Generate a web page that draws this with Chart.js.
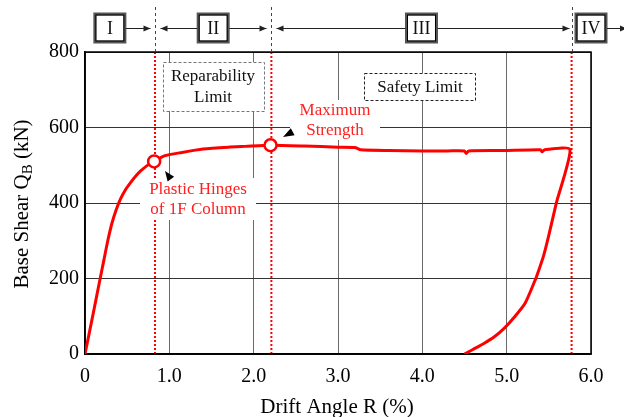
<!DOCTYPE html>
<html><head><meta charset="utf-8">
<script src="https://cdn.jsdelivr.net/npm/chart.js@4.4.1/dist/chart.umd.min.js"></script>
<style>html,body{margin:0;padding:0;background:#fff}#wrap{width:624px;height:417px}</style>
</head><body><div id="wrap"><canvas id="c" width="624" height="417"></canvas></div>
<script>
// ---- data ----
const driftR = [0, 0.08, 0.137, 0.18, 0.225, 0.27, 0.32, 0.37, 0.42, 0.48, 0.54, 0.6, 0.66, 0.76, 0.82, 0.94, 1.15, 1.4, 1.7, 1.9, 2.2, 2.6, 3.0, 3.2, 3.27, 3.6, 4.0, 4.3, 4.5, 4.52, 4.55, 4.96, 5.4, 5.42, 5.45, 5.75, 5.59, 5.5, 5.44, 5.39, 5.34, 5.22, 5.1, 4.97, 4.85, 4.73, 4.6, 4.5];
const shearQ = [0, 88, 152, 200, 250, 300, 347, 382, 410, 435, 454, 471, 485, 503, 510, 525, 534, 543, 548, 550, 553, 551, 548, 547, 541, 539, 538, 538, 538, 531, 538, 539, 541, 536, 541, 542, 401, 315, 262, 228, 197, 135, 100, 68, 45, 28, 12, 0];
const markerR = [0.82, 2.2];
const markerQ = [510, 553];
const limitR = [0.83, 2.21, 5.77];
const xTickValues = [0, 1, 2, 3, 4, 5, 6];
const yTickValues = [0, 200, 400, 600, 800];
const stageLabels = ['I', 'II', 'III', 'IV'];
const stageCenterR = [0.295, 1.52, 3.99, 6.0];

const SERIF = '"Liberation Serif", "Times New Roman", serif';
Chart.defaults.font.family = SERIF;
Chart.defaults.color = '#000';

const curvePts = driftR.map((r, i) => ({x: r, y: shearQ[i]}));
const markerPts = markerR.map((r, i) => ({x: r, y: markerQ[i]}));

const datasets = [
  {label: 'curve', data: curvePts, showLine: true, borderColor: '#ff0000', borderWidth: 3,
   pointRadius: 0, tension: 0.2, order: 1},
  {label: 'markers', data: markerPts, showLine: false, pointRadius: 6, pointBorderWidth: 2.5,
   pointBackgroundColor: '#fff', pointBorderColor: '#ff0000', order: 0, clip: false}
];
limitR.forEach((r, i) => datasets.push({
  label: 'limit' + i, data: [{x: r, y: 0}, {x: r, y: 800}], showLine: true,
  borderColor: '#ff0000', borderWidth: 2, borderDash: [2, 2], pointRadius: 0, order: 2 + i
}));

function arrowHead(ctx, x1, y1, x2, y2, len, half) {
  const a = Math.atan2(y2 - y1, x2 - x1);
  ctx.beginPath();
  ctx.moveTo(x2, y2);
  ctx.lineTo(x2 - len * Math.cos(a) + half * Math.sin(a), y2 - len * Math.sin(a) - half * Math.cos(a));
  ctx.lineTo(x2 - len * Math.cos(a) - half * Math.sin(a), y2 - len * Math.sin(a) + half * Math.cos(a));
  ctx.closePath();
  ctx.fill();
}
function arrow(ctx, x1, y, x2) {
  ctx.beginPath(); ctx.moveTo(x1, y); ctx.lineTo(x2, y); ctx.stroke();
  arrowHead(ctx, x1, y, x2, y, 7, 3);
}

const deco = {
  id: 'deco',
  beforeDatasetDraw(chart, args) {
    if (args.index !== 0) return;
    const ctx = chart.ctx;
    ctx.save();
    ctx.fillStyle = '#fff';
    // label backgrounds
    ctx.fillRect(140, 178, 116, 42);
    ctx.fillRect(290, 100, 90, 40);
    // Reparability box
    ctx.fillRect(163, 62, 101, 49);
    ctx.setLineDash([3, 2]); ctx.strokeStyle = '#777'; ctx.lineWidth = 1;
    ctx.strokeRect(163.5, 62.5, 101, 49);
    // Safety box
    ctx.fillRect(364, 73, 111, 27);
    ctx.strokeStyle = '#222';
    ctx.strokeRect(364.5, 73.5, 111, 27);
    ctx.setLineDash([]);
    // frame
    const a = chart.chartArea;
    ctx.strokeStyle = '#000'; ctx.lineWidth = 1.5;
    ctx.strokeRect(a.left, a.top, a.right - a.left, a.bottom - a.top);
    ctx.restore();
  },
  afterDraw(chart) {
    const ctx = chart.ctx, xs = chart.scales.x, a = chart.chartArea;
    ctx.save();
    // dashed extension lines above the plot
    ctx.strokeStyle = '#444'; ctx.lineWidth = 1; ctx.setLineDash([3, 3]);
    const lx = limitR.map(r => Math.round(xs.getPixelForValue(r)) + 0.5);
    lx.forEach(x => { ctx.beginPath(); ctx.moveTo(x, 7); ctx.lineTo(x, a.top); ctx.stroke(); });
    ctx.setLineDash([]);
    // stage boxes
    const cx = stageCenterR.map(r => xs.getPixelForValue(r));
    ctx.font = '18px ' + SERIF; ctx.textAlign = 'center'; ctx.textBaseline = 'middle';
    cx.forEach((c, i) => {
      ctx.fillStyle = '#fff';
      ctx.fillRect(c - 15, 14, 30, 28);
      ctx.strokeStyle = '#555'; ctx.lineWidth = 3;
      ctx.strokeRect(c - 15, 14, 30, 28);
      ctx.strokeStyle = '#000'; ctx.lineWidth = 1;
      ctx.strokeRect(c - 14, 15, 28, 26);
      ctx.fillStyle = '#111';
      ctx.fillText(stageLabels[i], c, 29);
    });
    // stage arrows
    ctx.strokeStyle = '#222'; ctx.fillStyle = '#222'; ctx.lineWidth = 1;
    const ay = 28.5;
    arrow(ctx, cx[0] + 16, ay, lx[0] - 5);
    arrow(ctx, cx[1] - 16, ay, lx[0] + 5);
    arrow(ctx, cx[1] + 16, ay, lx[1] - 5);
    arrow(ctx, cx[2] - 16, ay, lx[1] + 5);
    arrow(ctx, cx[2] + 16, ay, lx[2] - 3);
    arrow(ctx, cx[3] + 16, ay, 627);
    // annotation arrowheads
    ctx.fillStyle = '#000';
    arrowHead(ctx, 173, 182, 165, 171, 10, 4);
    arrowHead(ctx, 296, 130, 283, 137, 11, 4);
    // texts
    ctx.font = '17px ' + SERIF; ctx.textAlign = 'center'; ctx.textBaseline = 'middle';
    ctx.fillStyle = '#111';
    ctx.fillText('Reparability', 213, 77);
    ctx.fillText('Limit', 213, 98);
    ctx.fillText('Safety Limit', 420, 88);
    ctx.fillStyle = '#ff2020';
    ctx.fillText('Maximum', 335, 111);
    ctx.fillText('Strength', 335, 131);
    ctx.fillText('Plastic Hinges', 198, 190);
    ctx.fillText('of 1F Column', 198, 210);
    // axis titles
    ctx.fillStyle = '#000';
    ctx.font = '21px ' + SERIF;
    ctx.fillText('Drift Angle R (%)', 337, 407);
    ctx.translate(21, 204); ctx.rotate(-Math.PI / 2);
    const p1 = 'Base Shear Q', p2 = 'B', p3 = ' (kN)';
    ctx.font = '21px ' + SERIF; const w1 = ctx.measureText(p1).width, w3 = ctx.measureText(p3).width;
    ctx.font = '15px ' + SERIF; const w2 = ctx.measureText(p2).width;
    let x0 = -(w1 + w2 + w3) / 2;
    ctx.textAlign = 'left'; ctx.textBaseline = 'alphabetic';
    ctx.font = '21px ' + SERIF; ctx.fillText(p1, x0, 7);
    ctx.font = '15px ' + SERIF; ctx.fillText(p2, x0 + w1, 11);
    ctx.font = '21px ' + SERIF; ctx.fillText(p3, x0 + w1 + w2, 7);
    ctx.restore();
  }
};

new Chart(document.getElementById('c'), {
  type: 'scatter',
  data: {datasets},
  options: {
    responsive: false, animation: false, devicePixelRatio: 1,
    layout: {padding: {top: 52, right: 33, left: 0, bottom: 0}},
    plugins: {legend: {display: false}, tooltip: {enabled: false}},
    scales: {
      x: {
        type: 'linear', min: 0, max: 6,
        afterBuildTicks: s => { s.ticks = xTickValues.map(v => ({value: v})); },
        afterFit: s => { s.height = 63; },
        ticks: {callback: v => v === 0 ? '0' : v.toFixed(1), font: {size: 20}, color: '#000', padding: 11, maxRotation: 0},
        grid: {color: '#6a6a6a', lineWidth: 1, drawTicks: false},
        border: {color: '#000', width: 1.5}
      },
      y: {
        min: 0, max: 800,
        afterBuildTicks: s => { s.ticks = yTickValues.map(v => ({value: v})); },
        afterFit: s => { s.width = 85; },
        ticks: {font: {size: 20}, color: '#000', padding: 6},
        grid: {color: '#333', lineWidth: 1, drawTicks: false},
        border: {color: '#000', width: 1.5}
      }
    }
  },
  plugins: [deco]
});
</script></body></html>
